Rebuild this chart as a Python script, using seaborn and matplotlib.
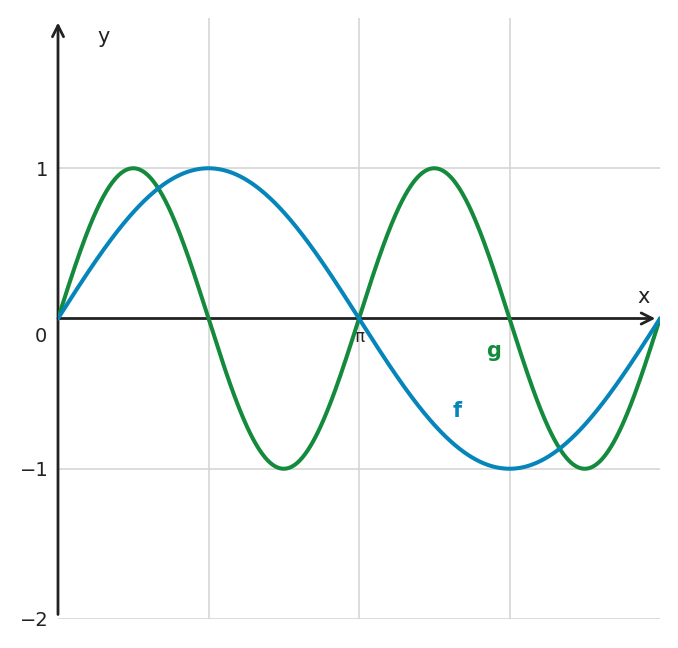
import numpy as np
import pandas as pd
import matplotlib
matplotlib.use("Agg")
import matplotlib.pyplot as plt
import seaborn as sns

# Data: f(x) = sin x, g(x) = sin 2x on [0, 2π]
x_vals = np.linspace(0, 2 * np.pi, 600)
f_vals = np.sin(x_vals)
g_vals = np.sin(2 * x_vals)
y_ticks = [-2, -1, 1]
y_tick_labels = ["\u22122", "\u22121", "1"]
x_grid = [np.pi / 2, np.pi, 3 * np.pi / 2]

BLUE = "#0585b9"
GREEN = "#138a3c"
DARK = "#222222"
GRID = "#d5d5d5"

sns.set_theme(style="white")
plt.rcParams["font.family"] = ["DejaVu Sans"]

fig = plt.figure(figsize=(6.78, 6.48), dpi=100)
ax = fig.add_axes([58 / 678, 1 - 619 / 648, 602 / 678, 601 / 648])

df = pd.DataFrame({"x": x_vals, "f": f_vals, "g": g_vals})
sns.lineplot(data=df, x="x", y="g", ax=ax, color=GREEN, lw=2.9, zorder=4)
sns.lineplot(data=df, x="x", y="f", ax=ax, color=BLUE, lw=2.9, zorder=4)

ax.set_xlim(0, 2 * np.pi)
ax.set_ylim(-2, 2)
ax.set_xlabel("")
ax.set_ylabel("")
for s in ax.spines.values():
    s.set_visible(False)

ax.set_xticks(x_grid)
ax.set_xticklabels([])
ax.tick_params(axis="x", length=0)
ax.set_yticks(y_ticks)
ax.set_yticklabels(y_tick_labels)
ax.tick_params(axis="y", direction="in", length=5, width=2, color=DARK,
               labelsize=14, labelcolor=DARK, pad=7)
ax.grid(True, color=GRID, lw=1.2, zorder=0)

# axes with arrows
ax.annotate("", xy=(0, 1.97), xytext=(0, -1.97),
            arrowprops=dict(arrowstyle="->", lw=2, color=DARK,
                            mutation_scale=20, shrinkA=0, shrinkB=0),
            annotation_clip=False, zorder=3)
ax.annotate("", xy=(6.235, 0), xytext=(0, 0),
            arrowprops=dict(arrowstyle="->", lw=2, color=DARK,
                            mutation_scale=20, shrinkA=0, shrinkB=0),
            annotation_clip=False, zorder=3)

ax.text(0.48, 1.875, "y", fontsize=15, color=DARK, ha="center", va="center")
ax.text(6.116, 0.14, "x", fontsize=15, color=DARK, ha="center", va="center")
ax.text(-0.177, -0.12, "0", fontsize=14, color=DARK, ha="center", va="center")
ax.text(np.pi, -0.125, "\u03c0", fontsize=12, color=DARK, ha="center", va="center")
ax.text(4.55, -0.213, "g", fontsize=15, color=GREEN, fontweight="bold",
        ha="center", va="center")
ax.text(4.165, -0.618, "f", fontsize=15, color=BLUE, fontweight="bold",
        ha="center", va="center")

fig.savefig("out.png", dpi=100)
